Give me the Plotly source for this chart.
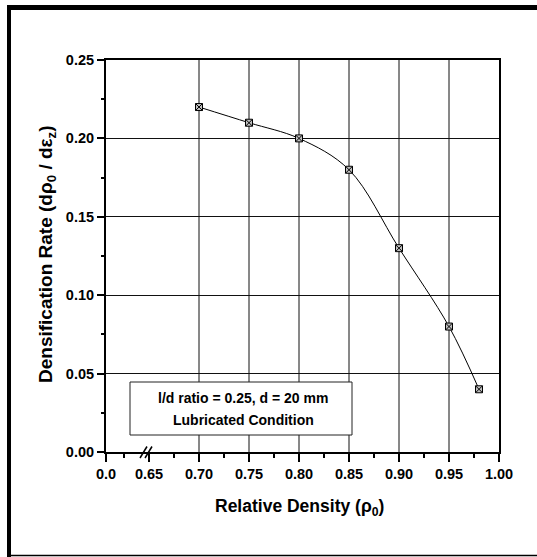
import plotly.graph_objects as go

# ---- data ----
rel_density = [0.70, 0.75, 0.80, 0.85, 0.90, 0.95, 0.98]
densification_rate = [0.22, 0.21, 0.20, 0.18, 0.13, 0.08, 0.04]

# broken x-axis: "0.0" is drawn just before the break at 0.65
x_tick_vals = [0.607, 0.65, 0.70, 0.75, 0.80, 0.85, 0.90, 0.95, 1.00]
x_tick_text = ["0.0", "0.65", "0.70", "0.75", "0.80", "0.85", "0.90", "0.95", "1.00"]
x_minor_vals = [0.625, 0.675, 0.725, 0.775, 0.825, 0.875, 0.925, 0.975]
x_grid_vals = [0.70, 0.75, 0.80, 0.85, 0.90, 0.95]
y_tick_vals = [0.00, 0.05, 0.10, 0.15, 0.20, 0.25]
y_tick_text = ["0.00", "0.05", "0.10", "0.15", "0.20", "0.25"]

W, H = 537, 557
ML, MR, MT, MB = 106, 38, 60, 105
PW, PH = W - ML - MR, H - MT - MB


def px(X):
    return (X - ML) / PW


def py(Y):
    return (H - MB - Y) / PH


FONT = "Liberation Sans, Arial, sans-serif"

fig = go.Figure()
fig.add_trace(go.Scatter(
    x=rel_density, y=densification_rate, mode="lines+markers",
    line=dict(color="black", width=1, shape="spline", smoothing=1.0),
    marker=dict(symbol="square-x", size=7, color="#c0c0c0",
                line=dict(color="black", width=1)),
    showlegend=False, cliponaxis=False,
))

shapes = []
# vertical grid lines
for gx in x_grid_vals:
    shapes.append(dict(type="line", xref="x", yref="paper", x0=gx, x1=gx, y0=0, y1=1,
                       line=dict(color="#111", width=1), layer="below"))
# axis break marks
for dx in (0.0, 5.0):
    shapes.append(dict(type="line", xref="paper", yref="paper",
                       x0=px(140 + dx), y0=py(458), x1=px(147 + dx), y1=py(446.5),
                       line=dict(color="black", width=1.5), layer="above"))
# annotation box
shapes.append(dict(type="rect", xref="paper", yref="paper",
                   x0=px(130), x1=px(352), y0=py(435), y1=py(382),
                   fillcolor="white", line=dict(color="#222", width=1), layer="above"))
# outer frame
shapes.append(dict(type="rect", xref="paper", yref="paper",
                   x0=px(7), x1=px(537), y0=py(10), y1=py(5),
                   fillcolor="black", line=dict(width=0), layer="above"))
shapes.append(dict(type="rect", xref="paper", yref="paper",
                   x0=px(7), x1=px(11), y0=py(557), y1=py(5),
                   fillcolor="black", line=dict(width=0), layer="above"))
shapes.append(dict(type="line", xref="paper", yref="paper",
                   x0=px(7), x1=px(537), y0=py(555.5), y1=py(555.5),
                   line=dict(color="black", width=1.5), layer="above"))

annotations = [
    dict(text="l/d ratio = 0.25, d = 20 mm", xref="paper", yref="paper",
         x=px(243), y=py(397.5), showarrow=False, xanchor="center", yanchor="middle",
         font=dict(family=FONT, size=14, color="black", weight="bold")),
    dict(text="Lubricated Condition", xref="paper", yref="paper",
         x=px(243), y=py(419.5), showarrow=False, xanchor="center", yanchor="middle",
         font=dict(family=FONT, size=14, color="black", weight="bold")),
    dict(text="Relative Density (ρ<sub>0</sub>)", xref="paper", yref="paper",
         x=px(299), y=py(507), showarrow=False, xanchor="center", yanchor="middle",
         font=dict(family=FONT, size=17.5, color="black", weight="bold")),
    dict(text="Densification Rate (dρ<sub>0</sub> / dε<sub>z</sub>)", xref="paper", yref="paper",
         x=px(47), y=py(254), showarrow=False, xanchor="center", yanchor="middle",
         textangle=-90,
         font=dict(family=FONT, size=19, color="black", weight="bold")),
]

fig.update_layout(
    width=W, height=H, margin=dict(l=ML, r=MR, t=MT, b=MB),
    paper_bgcolor="white", plot_bgcolor="white",
    shapes=shapes, annotations=annotations,
    xaxis=dict(range=[0.607, 1.0], tickmode="array", tickvals=x_tick_vals, ticktext=x_tick_text,
               showgrid=False, zeroline=False, showline=True, linecolor="black", linewidth=2,
               mirror=True, ticks="outside", ticklen=8, tickwidth=1.5, tickcolor="black",
               minor=dict(tickvals=x_minor_vals, ticks="outside", ticklen=4, tickwidth=1.5,
                          tickcolor="black", showgrid=False),
               tickfont=dict(family=FONT, size=14.5, color="black", weight="bold")),
    yaxis=dict(range=[0.0, 0.25], tickmode="array", tickvals=y_tick_vals, ticktext=y_tick_text,
               showgrid=True, gridcolor="#111", gridwidth=1, zeroline=False,
               showline=True, linecolor="black", linewidth=2, mirror=True,
               ticks="outside", ticklen=7, tickwidth=1.5, tickcolor="black",
               minor=dict(dtick=0.025, tick0=0.0, ticks="outside", ticklen=3, tickwidth=1.5,
                          tickcolor="black", showgrid=False),
               tickfont=dict(family=FONT, size=14.5, color="black", weight="bold")),
)

fig.write_html("out.html")
